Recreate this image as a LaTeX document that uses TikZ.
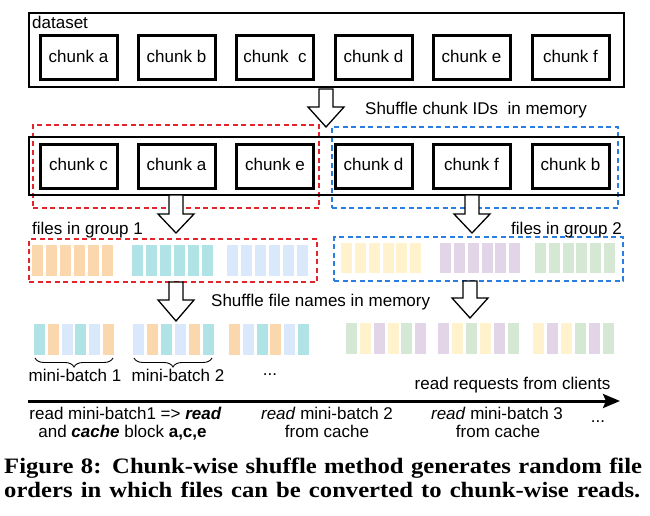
\documentclass[tikz,border=0pt]{standalone}
\usepackage{fontspec}
\setmainfont{Liberation Sans}
\newfontfamily\capfont{Liberation Serif}
\usetikzlibrary{decorations.pathreplacing,arrows.meta}
\definecolor{cOr}{HTML}{FAD7AC}
\definecolor{cTe}{HTML}{B0E3E6}
\definecolor{cBl}{HTML}{DAE8FC}
\definecolor{cYe}{HTML}{FFF2CC}
\definecolor{cPu}{HTML}{E1D5E7}
\definecolor{cGr}{HTML}{D5E8D4}
\definecolor{gRed}{HTML}{E3242B}
\definecolor{gBlue}{HTML}{2A7DE1}
\newcommand{\blkarr}[4]{\draw[blockarrow] (#1-7,#2) -- (#1+7,#2) -- (#1+7,#3) -- (#1+18,#3) -- (#1,#4) -- (#1-18,#3) -- (#1-7,#3) -- cycle;}
\begin{document}
\begin{tikzpicture}[x=1pt,y=-1pt,
  lbl/.style={font=\fontsize{17}{20}\selectfont, inner sep=0pt, text height=12.5pt, text depth=3.5pt},
  chunkbox/.style={draw, line width=3pt, minimum width=77pt, minimum height=44pt, inner sep=0pt, lbl},
  rowbox/.style={draw, line width=1.3pt, inner sep=0pt},
  grpbox/.style={draw=#1, dash pattern=on 5pt off 3.5pt, line width=1.7pt, inner sep=0pt},
  blockarrow/.style={draw, fill=white, line width=1.3pt, line join=miter},
  capline/.style={anchor=base west, inner sep=0pt, font=\capfont\bfseries\fontsize{22}{24}\selectfont},
]
\fill[white] (0,0) rectangle (650,516);
\useasboundingbox (0,0) rectangle (650,516);

% dataset row
\node[rowbox, minimum width=595pt, minimum height=74pt] (ds) at (326.5,50) {};
\node[lbl, anchor=west] (dslbl) at (32,24) {dataset};
\node[chunkbox] (a1) at (78.5,58) {chunk a};
\node[chunkbox] (b1) at (176.5,58) {chunk b};
\node[chunkbox] (c1) at (275,58) {chunk\ \ c};
\node[chunkbox] (d1) at (373.5,58) {chunk d};
\node[chunkbox] (e1) at (471.5,58) {chunk e};
\node[chunkbox] (f1) at (570.5,58) {chunk f};

% shuffled row
\node[grpbox=gRed, minimum width=286pt, minimum height=83pt] (gr) at (176,166.5) {};
\node[grpbox=gBlue, minimum width=286pt, minimum height=81pt] (gb) at (475,167.5) {};
\node[rowbox, minimum width=595pt, minimum height=58pt] (row2) at (326.5,166) {};
\node[chunkbox] (c2) at (78.5,166) {chunk c};
\node[chunkbox] (a2) at (176.5,166) {chunk a};
\node[chunkbox] (e2) at (275,166) {chunk e};
\node[chunkbox] (d2) at (373.5,166) {chunk d};
\node[chunkbox] (f2) at (471.5,166) {chunk f};
\node[chunkbox] (b2) at (570.5,166) {chunk b};

\node[lbl, anchor=west] (sh1) at (365,110) {Shuffle chunk IDs\ \ in memory};

% file groups
\node[grpbox=gRed, minimum width=288pt, minimum height=43pt] (fr) at (173,260.5) {};
\node[grpbox=gBlue, minimum width=289pt, minimum height=44pt] (fb) at (478.5,259) {};
\node[lbl, anchor=west] (g1) at (32,230) {files in group 1};
\node[lbl, anchor=east] (g2) at (622,230) {files in group 2};

\foreach \x/\c in {32/cOr,46/cOr,60/cOr,74/cOr,88/cOr,102/cOr,
                   132/cTe,146/cTe,160/cTe,174/cTe,188/cTe,202/cTe,
                   227/cBl,241/cBl,255/cBl,269/cBl,283/cBl,297/cBl}
  \fill[\c] (\x,245) rectangle ++(11,31);
\foreach \x/\c in {341/cYe,355/cYe,369/cYe,383/cYe,396/cYe,410/cYe,
                   440/cPu,454/cPu,468/cPu,482/cPu,495/cPu,509/cPu,
                   535/cGr,549/cGr,563/cGr,576/cGr,590/cGr,604/cGr}
  \fill[\c] (\x,243) rectangle ++(11,30);

\node[lbl, anchor=west] (sh2) at (211,302) {Shuffle file names in memory};

% shuffled files
\foreach \x/\c in {34/cTe,48/cOr,62/cBl,75/cTe,89/cBl,103/cOr,
                   133/cBl,147/cOr,161/cTe,175/cBl,189/cOr,203/cTe,
                   229/cOr,243/cBl,257/cTe,270/cOr,284/cBl,298/cTe}
  \fill[\c] (\x,324) rectangle ++(11,31);
\foreach \x/\c in {346/cGr,360/cYe,374/cPu,388/cYe,401/cGr,415/cPu,
                   438/cPu,452/cYe,466/cGr,480/cYe,494/cPu,508/cGr,
                   533/cYe,547/cPu,561/cYe,575/cGr,589/cPu,603/cGr}
  \fill[\c] (\x,323) rectangle ++(11,31);

% block arrows
\blkarr{326}{89}{107}{127}
\blkarr{176}{195}{214}{233}
\blkarr{472}{195}{214}{233}
\blkarr{176}{282}{300}{321}
\blkarr{470}{281}{298}{318}

% braces
\coordinate (br1a) at (35,358); \coordinate (br1b) at (113,358);
\coordinate (br2a) at (134,358); \coordinate (br2b) at (212,358);
\draw[line width=0.9pt, decorate, decoration={brace, mirror, amplitude=9pt}] (br1a) -- (br1b);
\draw[line width=0.9pt, decorate, decoration={brace, mirror, amplitude=9pt}] (br2a) -- (br2b);
\node[lbl] (mb1) at (75,377) {mini-batch 1};
\node[lbl] (mb2) at (178,377) {mini-batch 2};
\node[lbl] (dots1) at (270,371) {...};

% timeline
\coordinate (tl0) at (28,401); \coordinate (tl1) at (620,401);
\draw[line width=3pt, -{Stealth[length=17pt,width=14pt,inset=3pt]}] (tl0) -- (tl1);
\node[lbl] (rr) at (512.5,385) {read requests from clients};
\node[lbl] (t1a) at (125.5,415) {read mini-batch1 => \textbf{\textit{read}}};
\node[lbl] (t1b) at (122.5,433) {and \textbf{\textit{cache}} block \textbf{a,c,e}};
\node[lbl] (t2a) at (327,415) {\textit{read} mini-batch 2};
\node[lbl] (t2b) at (327,433) {from cache};
\node[lbl] (t3a) at (497,415) {\textit{read} mini-batch 3};
\node[lbl] (t3b) at (498,433) {from cache};
\node[lbl] (dots2) at (598,418) {...};

% caption
\node[capline] (cap1) at (4,473) {\scalebox{1.12}[1]{\makebox[569.6pt][s]{Figure 8: Chunk-wise shuffle method generates random file}}};
\node[capline] (cap2) at (4,497) {\scalebox{1.12}[1]{\makebox[567.9pt][s]{orders in which files can be converted to chunk-wise reads.}}};
\end{tikzpicture}
\end{document}
